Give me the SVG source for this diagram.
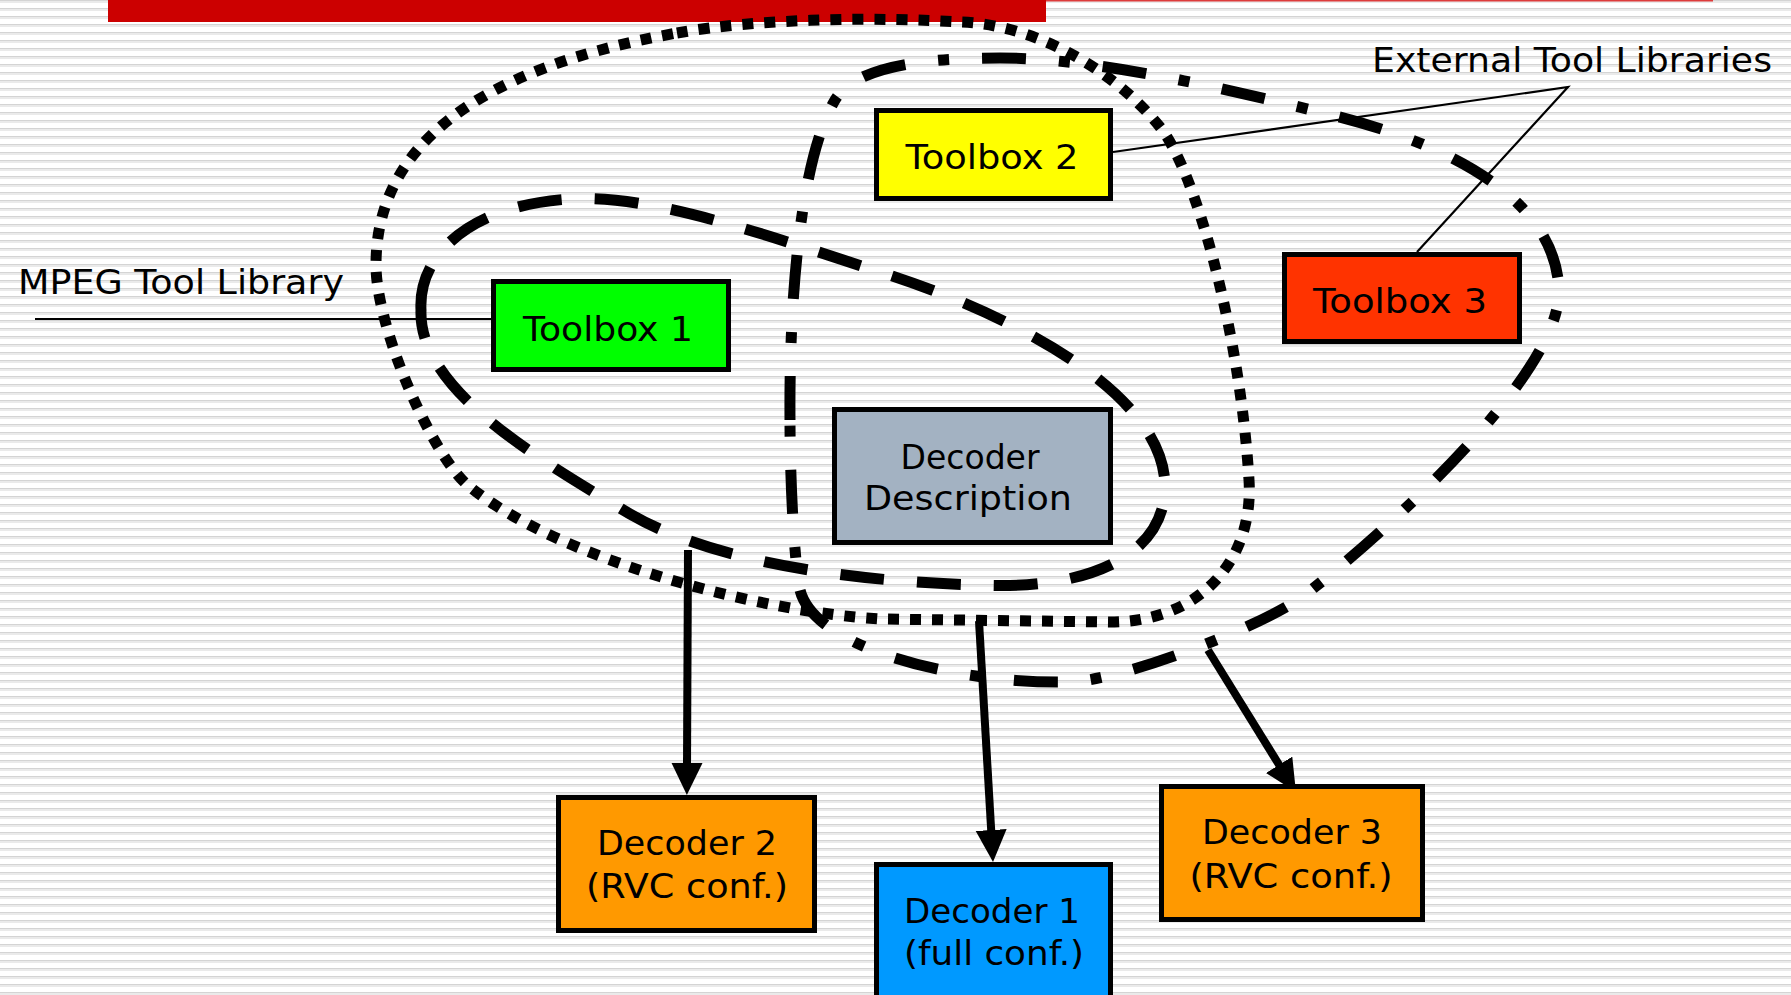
<svg xmlns="http://www.w3.org/2000/svg" width="1791" height="995" viewBox="0 0 1791 995">
  <defs>
    <!-- ruled slide background -->
    <pattern id="ruled" width="8" height="8" patternUnits="userSpaceOnUse">
      <rect width="8" height="8" fill="#ffffff"/>
      <rect y="0" width="8" height="1" fill="#d4d4d4"/>
      <rect y="1" width="8" height="2" fill="#eaeaea"/>
    </pattern>
    <marker id="head" markerUnits="userSpaceOnUse" markerWidth="34" markerHeight="33" refX="4" refY="15.5" orient="auto">
      <path d="M0,0 L32,15.5 L0,31 Z" fill="#000"/>
    </marker>
    <style>
      .box { stroke: #000; stroke-width: 5; }
      .lbl { font-family: "DejaVu Sans", Verdana, sans-serif; font-size: 34px; fill: #000; }
      .loop { fill: none; stroke: #000; stroke-width: 11; stroke-linecap: butt; }
      .dotted { stroke-dasharray: 11 11; }
      .dashed { stroke-dasharray: 44 33; }
      .dashdot { stroke-dasharray: 44 33 11 33; }
      .thin { fill: none; stroke: #000; stroke-width: 2.2; }
      .arrow { fill: none; stroke: #000; stroke-width: 8; marker-end: url(#head); }
    </style>
  </defs>

  <rect width="1791" height="995" fill="url(#ruled)"/>

  <!-- title rule -->
  <g id="title-bar">
    <rect x="108" y="0" width="938" height="22" fill="#cc0000"/>
    <rect x="1046" y="0" width="667" height="1.5" fill="#dd3b3b"/>
  </g>

  <!-- library groupings -->
  <g id="groupings">
    <path class="loop dotted" d="M677,33 C761,18 880,17 960,22 C1030,24 1110,65 1160,127 C1195,170 1240,330 1249,480 C1254,560 1200,622 1110,622 L880,619 C760,612 560,560 470,487 C435,461 376,330 376,265 C376,150 470,70 677,33 Z"/>
    <path class="loop dashed" d="M421,310 C418,255 470,205 570,199 C650,194 760,233 880,272 C1000,310 1168,390 1165,490 C1162,560 1080,590 980,585 C900,583 730,572 630,514 C540,460 418,390 421,310 Z"/>
    <path class="loop dashdot" d="M790,420 C789,300 800,160 835,100 C855,67 920,58 1000,58 C1100,58 1230,90 1332,115 C1429,139 1555,190 1559,290 C1561,380 1362,552 1302,597 C1260,627 1120,682 1067,682 C960,684 815,650 800,590 C794,560 790,480 790,420 Z"/>
  </g>

  <!-- connectors -->
  <g id="connectors">
    <path class="thin" d="M35,319 H491"/>
    <path class="thin" d="M1113,152 L1568,87 L1417,252"/>
    <path class="arrow" d="M688,550 L687,767"/>
    <path class="arrow" d="M979,621 L991.4,834"/>
    <path class="arrow" d="M1208,650 L1281.2,768.2"/>
  </g>

  <!-- callout labels -->
  <g id="label-mpeg">
    <text class="lbl" x="18" y="294" textLength="326" lengthAdjust="spacingAndGlyphs">MPEG Tool Library</text>
  </g>
  <g id="label-external">
    <text class="lbl" x="1372" y="72" textLength="400" lengthAdjust="spacingAndGlyphs">External Tool Libraries</text>
  </g>

  <g id="toolbox1">
    <rect class="box" x="493.5" y="281.5" width="235" height="88" fill="#00ff00"/>
    <text class="lbl" x="608" y="341" text-anchor="middle" textLength="170" lengthAdjust="spacingAndGlyphs">Toolbox 1</text>
  </g>
  <g id="toolbox2">
    <rect class="box" x="876.5" y="110.5" width="234" height="88" fill="#ffff00"/>
    <text class="lbl" x="992" y="169" text-anchor="middle" textLength="173" lengthAdjust="spacingAndGlyphs">Toolbox 2</text>
  </g>
  <g id="toolbox3">
    <rect class="box" x="1284.5" y="254.5" width="235" height="87" fill="#ff3300"/>
    <text class="lbl" x="1400" y="313" text-anchor="middle" textLength="174" lengthAdjust="spacingAndGlyphs">Toolbox 3</text>
  </g>
  <g id="decoder-description">
    <rect class="box" x="834.5" y="409.5" width="276" height="133" fill="#a3b2c2"/>
    <text class="lbl" x="970" y="469" text-anchor="middle" textLength="139" lengthAdjust="spacingAndGlyphs">Decoder</text>
    <text class="lbl" x="968" y="510" text-anchor="middle" textLength="208" lengthAdjust="spacingAndGlyphs">Description</text>
  </g>
  <g id="decoder2">
    <rect class="box" x="558.5" y="797.5" width="256" height="133" fill="#ff9900"/>
    <text class="lbl" x="687" y="855" text-anchor="middle" textLength="180" lengthAdjust="spacingAndGlyphs">Decoder 2</text>
    <text class="lbl" x="687" y="898" text-anchor="middle" textLength="202" lengthAdjust="spacingAndGlyphs">(RVC conf.)</text>
  </g>
  <g id="decoder1">
    <rect class="box" x="876.5" y="864.5" width="234" height="140" fill="#0099ff"/>
    <text class="lbl" x="992" y="923" text-anchor="middle" textLength="176" lengthAdjust="spacingAndGlyphs">Decoder 1</text>
    <text class="lbl" x="994" y="965" text-anchor="middle" textLength="180" lengthAdjust="spacingAndGlyphs">(full conf.)</text>
  </g>
  <g id="decoder3">
    <rect class="box" x="1161.5" y="786.5" width="261" height="133" fill="#ff9900"/>
    <text class="lbl" x="1292" y="844" text-anchor="middle" textLength="180" lengthAdjust="spacingAndGlyphs">Decoder 3</text>
    <text class="lbl" x="1291" y="888" text-anchor="middle" textLength="203" lengthAdjust="spacingAndGlyphs">(RVC conf.)</text>
  </g>
</svg>
